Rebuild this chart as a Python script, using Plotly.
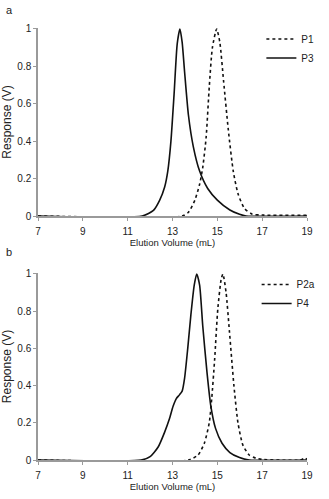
import plotly.graph_objects as go
from plotly.subplots import make_subplots

# panel a
p1_x = [7, 13.43, 13.71, 14.0, 14.21, 14.35, 14.5, 14.64, 14.78, 14.97, 15.11,
        15.28, 15.49, 15.71, 15.92, 16.21, 16.56, 17.0, 19]
p1_y = [0, 0, 0.02, 0.085, 0.17, 0.26, 0.42, 0.69, 0.90, 1.0, 0.93,
        0.72, 0.46, 0.24, 0.12, 0.04, 0.01, 0.005, 0.004]
p3_x = [7, 11.65, 12.15, 12.43, 12.65, 12.79, 12.93, 13.07, 13.21, 13.33, 13.43,
        13.54, 13.71, 13.93, 14.21, 14.57, 15.0, 15.56, 15.99, 16.28, 19]
p3_y = [0, 0, 0.03, 0.085, 0.155, 0.24, 0.40, 0.65, 0.92, 1.0, 0.93,
        0.77, 0.54, 0.37, 0.24, 0.147, 0.085, 0.032, 0.009, 0, 0]

# panel b
p2a_x = [7, 13.71, 14.14, 14.42, 14.64, 14.75, 14.88, 15.02, 15.17, 15.25, 15.39,
         15.54, 15.74, 15.92, 16.14, 16.42, 16.71, 17.0, 18.7, 18.9, 19]
p2a_y = [0, 0, 0.027, 0.09, 0.2, 0.33, 0.54, 0.81, 0.97, 1.0, 0.90,
         0.69, 0.40, 0.2, 0.08, 0.027, 0.01, 0.003, 0, 0.01, 0.005]
p4_x = [7, 11.6, 12.0, 12.36, 12.65, 12.86, 13.03, 13.17, 13.31, 13.43, 13.54,
        13.68, 13.82, 13.97, 14.08, 14.21, 14.35, 14.54, 14.71, 14.92, 15.21,
        15.56, 15.99, 16.42, 19]
p4_y = [0, 0, 0.018, 0.07, 0.15, 0.22, 0.29, 0.33, 0.35, 0.37, 0.44,
        0.60, 0.78, 0.94, 1.0, 0.94, 0.72, 0.47, 0.29, 0.17, 0.09,
        0.04, 0.013, 0, 0]

x_ticks = [7, 9, 11, 13, 15, 17, 19]
y_ticks = [0, 0.2, 0.4, 0.6, 0.8, 1]

W, H = 329, 499
ml, mr, mt, mb = 38, 8, 28, 39
pw = W - ml - mr
ph = H - mt - mb

fig = make_subplots(rows=2, cols=1)


def add_curve(x, y, name, row, legend, dash):
    fig.add_trace(go.Scatter(x=x, y=y, name=name, mode='lines',
                             line=dict(color='#111', width=1.6, dash=dash,
                                       shape='spline', smoothing=0.6),
                             legend=legend), row=row, col=1)


add_curve(p1_x, p1_y, 'P1', 1, 'legend', 'dot')
add_curve(p3_x, p3_y, 'P3', 1, 'legend', 'solid')
add_curve(p2a_x, p2a_y, 'P2a', 2, 'legend2', 'dot')
add_curve(p4_x, p4_y, 'P4', 2, 'legend2', 'solid')

axis_common = dict(showline=True, linecolor='#9a9a9a', linewidth=1.5,
                   showgrid=False, zeroline=False, ticks='outside',
                   tickcolor='#9a9a9a', ticklen=3,
                   ticklabeloverflow='allow',
                   tickfont=dict(size=10, color='#222'))

for r in (1, 2):
    fig.update_xaxes(range=[7, 19], tickvals=x_ticks, ticklabelstandoff=2,
                     automargin=(r == 1),
                     title=dict(text='Elution Volume (mL)', standoff=2,
                                font=dict(size=9.5, color='#222')),
                     row=r, col=1, **axis_common)
    fig.update_yaxes(range=[0, 1.005], tickvals=y_ticks, automargin=False,
                     title=dict(text='Response (V)',
                                font=dict(size=12, color='#222')),
                     row=r, col=1, **axis_common)

legend_common = dict(xanchor='left', yanchor='middle', bgcolor='rgba(0,0,0,0)',
                     font=dict(size=10, color='#222'), tracegroupgap=0,
                     itemwidth=30)

fig.update_layout(
    width=W, height=H,
    margin=dict(l=ml, r=mr, t=mt, b=mb),
    paper_bgcolor='white', plot_bgcolor='white',
    font=dict(family='Liberation Sans, Arial, sans-serif', size=10, color='#222'),
    yaxis=dict(domain=[(460 - 216) / ph, 1]),
    yaxis2=dict(domain=[0, (460 - 273) / ph]),
    legend=dict(x=(273 - ml) / pw, y=(460 - 48.5) / ph, **legend_common),
    legend2=dict(x=(268 - ml) / pw, y=(460 - 294) / ph, **legend_common),
)

fig.add_annotation(text='a', xref='paper', yref='paper',
                   x=-36 / pw, y=1 + 18 / ph, xanchor='left', yanchor='middle',
                   showarrow=False, font=dict(size=11, color='#222'))
fig.add_annotation(text='b', xref='paper', yref='paper',
                   x=-36 / pw, y=(460 - 252) / ph, xanchor='left', yanchor='middle',
                   showarrow=False, font=dict(size=11, color='#222'))

fig.write_html("out.html", config={'displayModeBar': False},
               post_script="document.body.style.margin='0';")
